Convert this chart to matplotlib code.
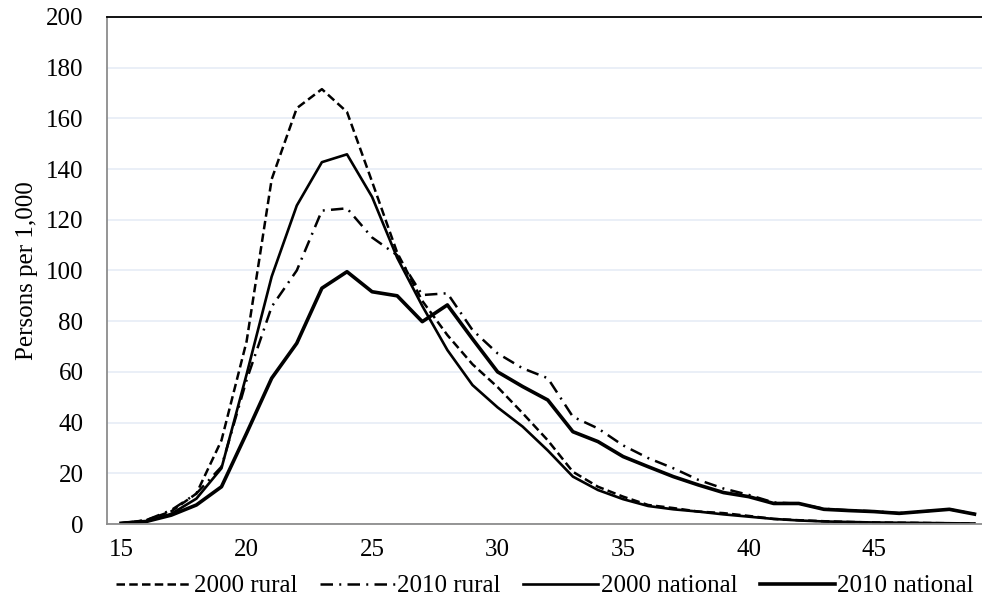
import matplotlib
matplotlib.use("Agg")
import matplotlib.pyplot as plt

ages = list(range(15, 50))

rural_2000 = [0.3, 1.5, 5, 12, 33, 72, 136, 164, 171.5, 162.5, 135, 107, 88,
              74.5, 63, 54, 43.7, 33, 20.6, 14.7, 10.8, 7.5, 6.3, 4.9, 4.3,
              3.2, 2, 1.5, 1.1, 0.8, 0.6, 0.5, 0.4, 0.3, 0.2]
rural_2010 = [0.3, 1.5, 5.5, 12, 22.6, 56.8, 85.7, 100, 123.6, 124.5, 113, 106,
              90.3, 91, 76.5, 67.3, 61.4, 57.5, 42.3, 37.7, 31, 26, 22, 17.4,
              14, 11.5, 8.5, 8, 6, 5.4, 5, 4.3, 5, 5.8, 4]
national_2000 = [0.2, 1, 4, 10, 22, 59, 97.6, 125.6, 142.7, 145.8, 129, 105, 86,
                 68.6, 54.8, 46, 38.4, 29, 18.7, 13.4, 9.8, 7.1, 5.8, 4.9, 3.8,
                 2.9, 2, 1.4, 1, 0.8, 0.6, 0.5, 0.4, 0.3, 0.2]
national_2010 = [0.3, 1, 3.5, 7.5, 14.7, 35.8, 57.5, 71.3, 93, 99.5, 91.6, 90,
                 79.8, 86.4, 73, 60, 54.2, 48.9, 36.4, 32.5, 26.6, 22.6, 18.7,
                 15.4, 12.4, 10.8, 8.1, 8.1, 5.8, 5.3, 4.9, 4.2, 5, 5.8, 3.9]

plt.rcParams['font.family'] = ['Liberation Serif', 'DejaVu Serif']

fig = plt.figure(figsize=(9.82, 6.03), dpi=100)
ax = fig.add_axes([0.109, 0.131, 0.891, 0.841])

ax.plot(ages, rural_2000, color='black', lw=1.8, linestyle=(0, (3.4, 1.7)),
        label='2000 rural')
ax.plot(ages, rural_2010, color='black', lw=1.8,
        linestyle=(0, (5, 2.5, 0.8, 2.5)), label='2010 rural')
ax.plot(ages, national_2000, color='black', lw=1.9, label='2000 national')
ax.plot(ages, national_2010, color='black', lw=2.6, label='2010 national')

ax.set_xlim(14.44, 49.3)
ax.set_ylim(0, 200)
ax.set_xticks(range(15, 50, 5))
ax.set_yticks(range(0, 201, 20))
ax.grid(axis='y', color='#E6ECF6', lw=1.2)
ax.set_axisbelow(True)

ax.tick_params(length=0, labelsize=18, colors='black')
ax.tick_params(axis='y', pad=17)
ax.tick_params(axis='x', pad=11)

ax.spines['right'].set_visible(False)
ax.spines['top'].set_color('black')
ax.spines['top'].set_linewidth(1.3)
ax.spines['left'].set_color('#8C8C8C')
ax.spines['left'].set_linewidth(1.3)
ax.spines['bottom'].set_color('#8C8C8C')
ax.spines['bottom'].set_linewidth(1.3)

ax.set_ylabel('Persons per 1,000', fontsize=18, labelpad=6)

fig.legend(loc='lower center', bbox_to_anchor=(0.555, -0.028), ncol=4,
           frameon=False, fontsize=18, handlelength=3.0, handletextpad=0.1,
           columnspacing=0.9)

fig.savefig('out.png', dpi=100)
